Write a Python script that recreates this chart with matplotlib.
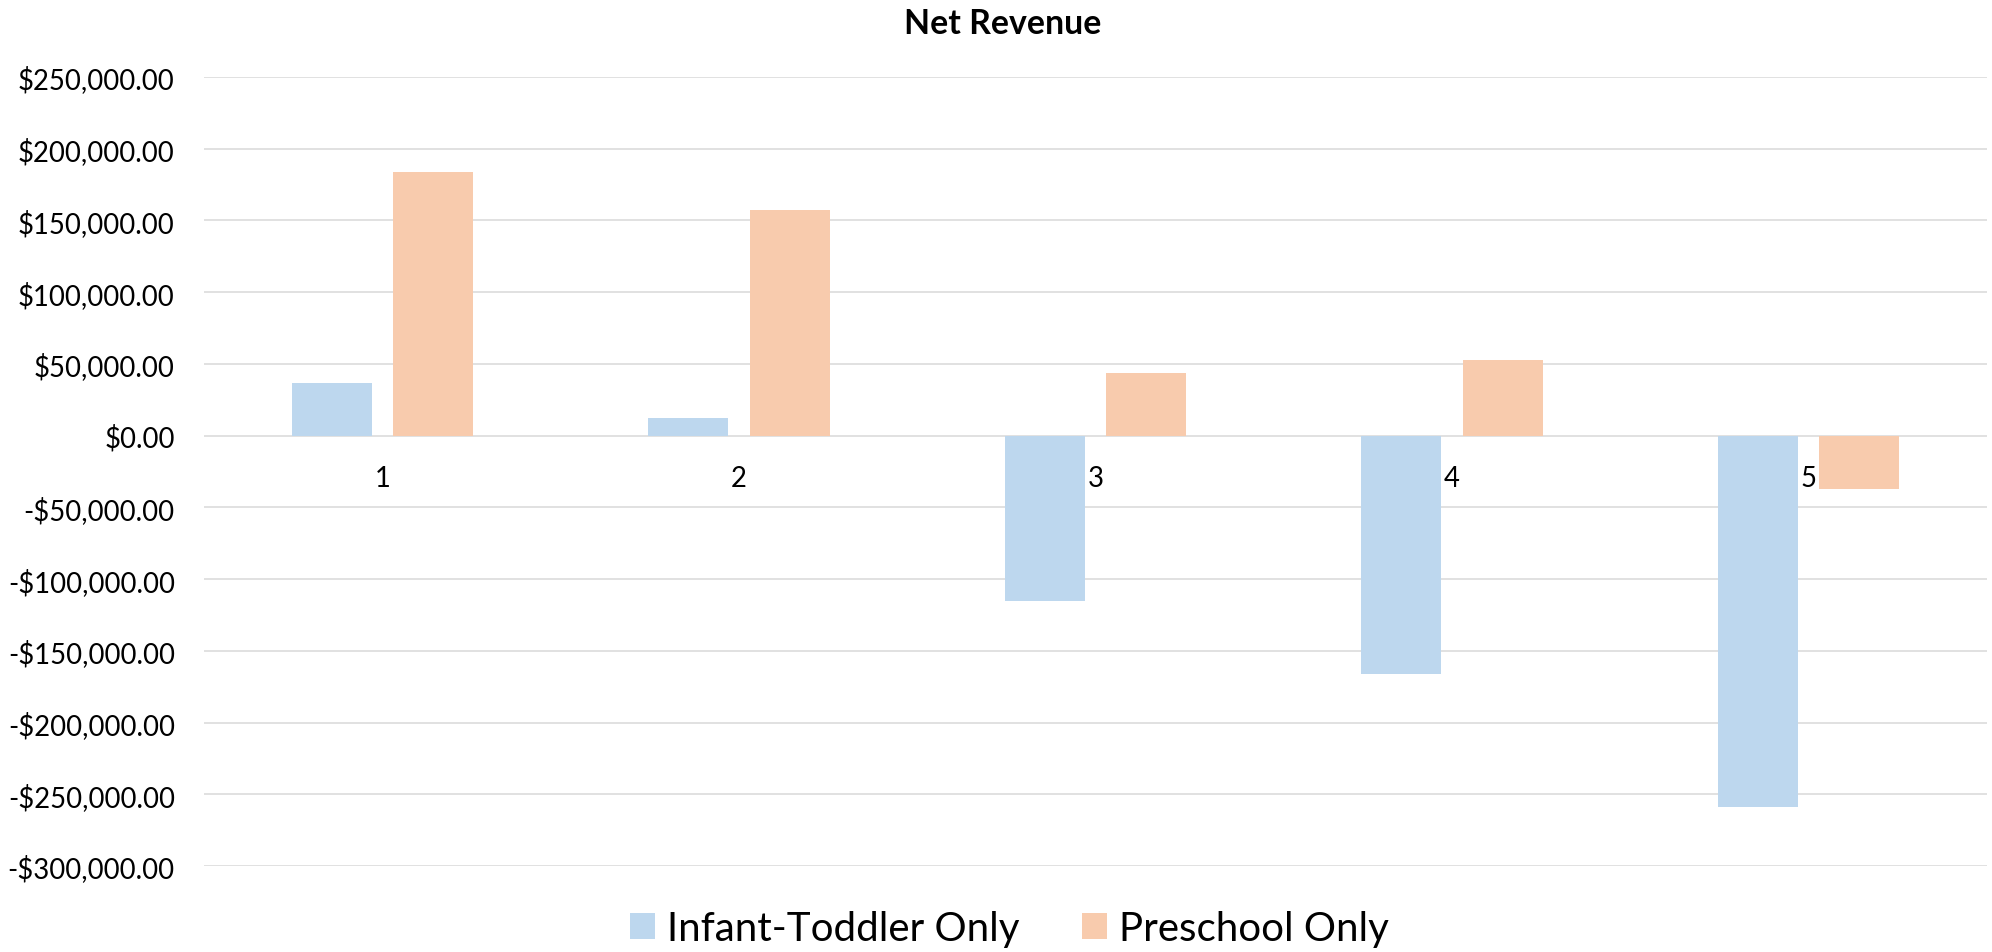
import matplotlib.pyplot as plt
import numpy as np
from matplotlib.ticker import FuncFormatter, MultipleLocator

categories = ["1", "2", "3", "4", "5"]
infant_toddler = [37000, 12000, -115000, -166000, -259000]
preschool = [184000, 157000, 44000, 52500, -37000]
series_names = ["Infant-Toddler Only", "Preschool Only"]

plt.rcParams['font.family'] = ['Lato', 'DejaVu Sans']

fig = plt.figure(figsize=(19.92, 9.53), dpi=100)
ax = fig.add_axes([204 / 1992, 1 - 867 / 953, (1987 - 204) / 1992, (867 - 78) / 953])

# largeur type Excel : gap 219 %, overlap -27 %
w = 1 / 4.46
off = 0.635 * w
x = np.arange(len(categories))
ax.bar(x - off, infant_toddler, w, color='#BDD7EE', label=series_names[0], zorder=2)
ax.bar(x + off, preschool, w, color='#F8CBAD', label=series_names[1], zorder=2)

ax.set_xlim(-0.5, len(categories) - 0.5)
ax.set_ylim(-300000, 250000)
ax.yaxis.set_major_locator(MultipleLocator(50000))


def money(v, pos):
    s = "${:,.2f}".format(abs(v))
    return "-" + s if v < 0 else s


ax.yaxis.set_major_formatter(FuncFormatter(money))
ax.tick_params(axis='y', length=0, pad=21, labelsize=19.8)
ax.set_xticks([])
ax.grid(axis='y', color='#D9D9D9', linewidth=1.1, zorder=0)
for s in ax.spines.values():
    s.set_visible(False)

# étiquettes de catégorie juste sous l'axe zéro
for i, c in enumerate(categories):
    ax.annotate(c, (i, 0), xytext=(0, -21), textcoords='offset points',
                ha='center', va='top', fontsize=19.8)

fig.text(1003 / 1992, 1 - 24 / 953, "Net Revenue", ha='center', va='center',
         fontsize=24.4, fontweight='bold')

fig.legend(loc='center', bbox_to_anchor=(1009.5 / 1992, 1 - 930 / 953), ncol=2,
           frameon=False, fontsize=29, handlelength=0.62, handleheight=0.62,
           handletextpad=0.3, columnspacing=1.55)

fig.savefig("out.png", dpi=100, facecolor='white')
